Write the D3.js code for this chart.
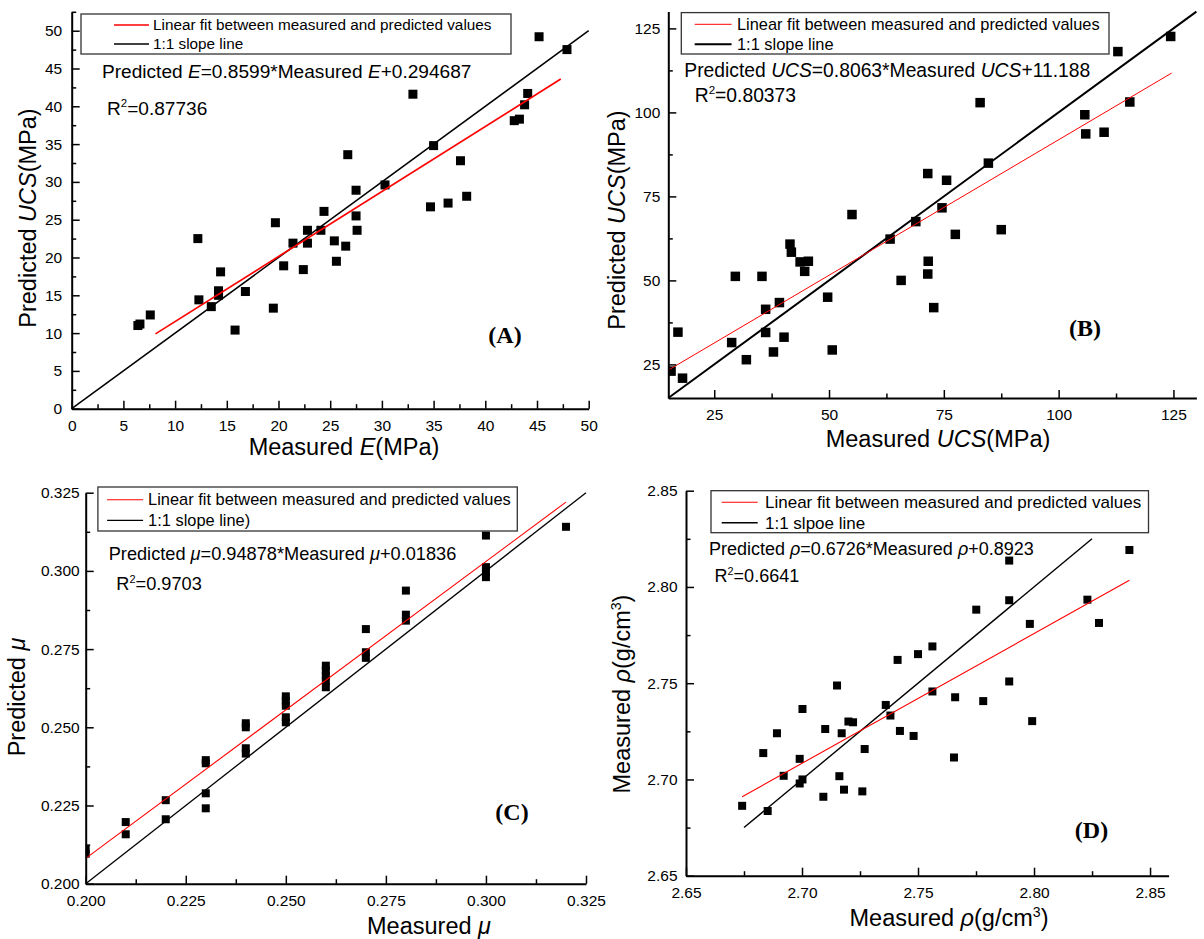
<!DOCTYPE html>
<html><head><meta charset="utf-8">
<script src="https://cdn.jsdelivr.net/npm/d3@7"></script>
<style>html,body{margin:0;padding:0;background:#fff;}svg{display:block;}</style>
</head><body>
<script>
// ---------- DATA ----------
// Panel A: E
const aMeasured  = [6.4,6.6,7.6,12.2,12.3,13.5,14.2,14.2,14.4,15.8,16.8,19.5,19.7,20.5,21.4,22.4,22.8,22.8,24.1,24.4,25.4,25.6,26.5,26.7,27.5,27.5,27.6,30.3,33.0,34.7,35.0,36.4,37.6,38.2,42.8,43.3,43.8,44.1,45.2,47.9];
const aPredicted = [11.0,11.2,12.4,22.5,14.4,13.5,15.6,15.0,18.1,10.4,15.5,13.3,24.6,18.9,21.9,18.4,23.6,21.9,23.6,26.1,22.2,19.5,21.5,33.6,28.9,25.5,23.6,29.6,41.6,26.7,34.8,27.2,32.8,28.1,38.1,38.3,40.2,41.7,49.2,47.5];
const aFitX = [8.1, 47.3], aFitY = [9.9, 43.6];
const aOneX = [0, 50],   aOneY = [0, 50];
const aTicks = [0,5,10,15,20,25,30,35,40,45,50];
const aMinorX = [2.5,7.5,12.5,17.5,22.5,27.5,32.5,37.5,42.5,47.5];
const aMinorY = [2.5,7.5,12.5,17.5,22.5,27.5,32.5,37.5,42.5,47.5,52.5];

// Panel B: UCS
const bMeasured  = [15.6,17.1,18.1,28.8,29.6,32.0,35.4,36.2,36.2,37.9,39.2,40.2,41.5,41.8,43.7,44.7,45.5,49.7,50.7,55.0,63.3,65.7,68.9,71.5,71.6,71.5,72.8,74.6,75.6,77.5,82.9,84.7,87.5,105.7,105.9,109.9,112.9,115.5,124.4];
const bPredicted = [23.0,34.6,20.9,31.5,51.2,26.4,51.2,41.4,34.5,28.7,43.4,33.1,60.8,58.4,55.5,52.7,55.7,45.0,29.3,69.6,62.3,50.0,67.5,81.8,55.7,51.9,41.9,71.6,79.8,63.7,102.9,84.9,65.1,99.3,93.6,94.1,118.1,103.1,122.6];
const bFitX = [15, 124.6], bFitY = [23.3, 111.7];
const bOneX = [15, 130],   bOneY = [15, 130];
const bTicks = [25,50,75,100,125];
const bMinor = [37.5,62.5,87.5,112.5];

// Panel C: Poisson's ratio
const cMeasured  = [0.20,0.20,0.21,0.21,0.22,0.22,0.23,0.23,0.23,0.23,0.24,0.24,0.24,0.24,0.25,0.25,0.25,0.25,0.25,0.26,0.26,0.26,0.26,0.26,0.27,0.27,0.27,0.28,0.28,0.28,0.30,0.30,0.30,0.30,0.32];
const cPredicted = [0.2110,0.2096,0.2197,0.2158,0.2267,0.2206,0.2395,0.2385,0.2289,0.2241,0.2513,0.2500,0.2433,0.2416,0.2599,0.2585,0.2569,0.2532,0.2516,0.2697,0.2681,0.2665,0.2649,0.2628,0.2814,0.2740,0.2722,0.2937,0.2860,0.2841,0.3113,0.3012,0.2996,0.2980,0.3141];
const cFitX = [0.200, 0.320], cFitY = [0.2081, 0.3220];
const cOneX = [0.200, 0.325], cOneY = [0.200, 0.325];
const cTicks = [0.200,0.225,0.250,0.275,0.300,0.325];
const cMinor = [0.2125,0.2375,0.2625,0.2875,0.3125];

// Panel D: density
const dMeasured  = [2.6742,2.6833,2.6852,2.6892,2.6921,2.6990,2.6990,2.7002,2.7002,2.7092,2.7100,2.7151,2.7161,2.7171,2.7181,2.7200,2.7220,2.7260,2.7270,2.7361,2.7381,2.7412,2.7422,2.7481,2.7500,2.7562,2.7562,2.7655,2.7660,2.7751,2.7781,2.7893,2.7893,2.7893,2.7982,2.7992,2.8230,2.8280,2.8411];
const dPredicted = [2.6863,2.7137,2.6836,2.7240,2.7019,2.7107,2.6979,2.7366,2.7000,2.6910,2.7262,2.7488,2.7017,2.7240,2.6947,2.7301,2.7297,2.6938,2.7158,2.7387,2.7332,2.7621,2.7252,2.7226,2.7651,2.7691,2.7457,2.7114,2.7427,2.7882,2.7407,2.8137,2.7931,2.7509,2.7808,2.7303,2.7934,2.7813,2.8192];
const dFitX = [2.6742, 2.8411], dFitY = [2.6910, 2.8035];
const dOneX = [2.675, 2.825],   dOneY = [2.675, 2.825];
const dTicks = [2.65,2.70,2.75,2.80,2.85];
const dMinor = [2.675,2.725,2.775,2.825];

const legendFit = "Linear fit between measured and predicted values";

// ---------- DRAWING ----------
const W = 1204, H = 939;
const FONT = "Arial, 'Liberation Sans', Helvetica, sans-serif";
const svg = d3.select("body").append("svg").attr("width", W).attr("height", H)
  .style("font-family", FONT);
svg.append("rect").attr("width", W).attr("height", H).attr("fill", "#fff");

function richText(sel, segs, size) {
  segs.forEach(s => {
    const t = sel.append("tspan").text(s.t);
    if (s.i) t.attr("font-style", "italic");
    if (s.sup) t.attr("font-size", size * 0.6).attr("dy", -size * 0.4);
    if (s.after) t.attr("dy", size * 0.4);
  });
}

function panel(cfg, idx) {
  const x = d3.scaleLinear().domain(cfg.xDomain).range(cfg.xRange);
  const y = d3.scaleLinear().domain(cfg.yDomain).range(cfg.yRange);
  const g = svg.append("g");
  const cid = "clip" + idx;
  svg.append("clipPath").attr("id", cid).append("rect")
    .attr("x", cfg.xRange[0]).attr("y", cfg.yRange[1])
    .attr("width", cfg.xRange[1] - cfg.xRange[0]).attr("height", cfg.yRange[0] - cfg.yRange[1]);

  const line = d3.line().x(d => x(d[0])).y(d => y(d[1]));
  // points
  g.append("g").attr("clip-path", `url(#${cid})`).selectAll("rect")
    .data(d3.zip(cfg.mx, cfg.py)).join("rect")
    .attr("x", d => x(d[0]) - cfg.ms / 2).attr("y", d => y(d[1]) - cfg.ms / 2)
    .attr("width", cfg.ms).attr("height", cfg.ms).attr("fill", "#000");
  // 1:1 line
  g.append("path").attr("d", line(d3.zip(cfg.oneX, cfg.oneY)))
    .attr("stroke", "#000").attr("stroke-width", cfg.oneW).attr("fill", "none");
  // fit line
  g.append("path").attr("d", line(d3.zip(cfg.fitX, cfg.fitY)))
    .attr("stroke", "#ff0000").attr("stroke-width", cfg.fitW).attr("fill", "none");

  // axes
  const x0 = cfg.xRange[0], y0 = cfg.yRange[0];
  const ti = cfg.inward ? -1 : 1;
  const xMaj = g.append("g").attr("transform", `translate(0,${y0})`)
    .call(d3.axisBottom(x).tickValues(cfg.xTicks).tickFormat(cfg.fmt)
      .tickSizeInner(8 * ti).tickSizeOuter(0).tickPadding(cfg.inward ? 11 : 3));
  const xMin = g.append("g").attr("transform", `translate(0,${y0})`)
    .call(d3.axisBottom(x).tickValues(cfg.xMinor).tickFormat("")
      .tickSizeInner(4.5 * ti).tickSizeOuter(0));
  const yMaj = g.append("g").attr("transform", `translate(${x0},0)`)
    .call(d3.axisLeft(y).tickValues(cfg.yTicks).tickFormat(cfg.fmt)
      .tickSizeInner(8 * ti).tickSizeOuter(0).tickPadding(cfg.inward ? cfg.yPad : cfg.yPad - 8));
  const yMin = g.append("g").attr("transform", `translate(${x0},0)`)
    .call(d3.axisLeft(y).tickValues(cfg.yMinor).tickFormat("")
      .tickSizeInner(4.5 * ti).tickSizeOuter(0));
  [xMin, yMin].forEach(a => a.select(".domain").remove());
  [xMaj, yMaj].forEach(a => a.select(".domain").attr("stroke-width", 2).attr("stroke", "#000"));
  [xMaj, xMin, yMaj, yMin].forEach(a => {
    a.selectAll(".tick line").attr("stroke", "#000").attr("stroke-width", 1.5);
    a.selectAll("text").attr("font-size", cfg.tickFont).attr("fill", "#000").attr("font-family", FONT);
  });

  // legend
  const L = cfg.legend;
  g.append("rect").attr("x", L.x).attr("y", L.y).attr("width", L.w).attr("height", L.h)
    .attr("fill", "#fff").attr("stroke", "#333").attr("stroke-width", 1.3);
  [[L.y1, "#ff0000", legendFit, cfg.fitW], [L.y2, "#000", cfg.legend2, cfg.oneW]].forEach(([ly, col, txt, sw]) => {
    g.append("line").attr("x1", L.lx1).attr("x2", L.lx2).attr("y1", ly).attr("y2", ly)
      .attr("stroke", col).attr("stroke-width", sw);
    g.append("text").attr("x", L.tx).attr("y", ly).attr("dy", "0.35em")
      .attr("font-size", L.fs).attr("fill", "#000").text(txt);
  });

  // equation
  const eq = g.append("text").attr("x", cfg.eq.x).attr("y", cfg.eq.y).attr("font-size", cfg.eq.fs).attr("fill", "#000");
  richText(eq, cfg.eq.segs, cfg.eq.fs);
  const r2 = g.append("text").attr("x", cfg.r2.x).attr("y", cfg.r2.y).attr("font-size", cfg.eq.fs).attr("fill", "#000");
  richText(r2, [{t: "R"}, {t: "2", sup: true}, {t: cfg.r2.t, after: true}], cfg.eq.fs);

  // panel label
  g.append("text").attr("x", cfg.lab.x).attr("y", cfg.lab.y).attr("text-anchor", "middle")
    .attr("font-family", "'Times New Roman', 'Liberation Serif', serif").attr("font-weight", "bold")
    .attr("font-size", 24).attr("fill", "#000").text(cfg.lab.t);

  // axis titles
  const xt = g.append("text").attr("x", cfg.xt.x).attr("y", cfg.xt.y).attr("text-anchor", "middle")
    .attr("font-size", cfg.titleFont).attr("fill", "#000");
  richText(xt, cfg.xt.segs, cfg.titleFont);
  const yt = g.append("text").attr("transform", `translate(${cfg.yt.x},${cfg.yt.y}) rotate(-90)`)
    .attr("text-anchor", "middle").attr("font-size", cfg.titleFont).attr("fill", "#000");
  richText(yt, cfg.yt.segs, cfg.titleFont);
}

const intFmt = d3.format("d");
panel({
  xDomain: [0, 50], xRange: [71.7, 588.7], yDomain: [0, 52.5], yRange: [408.7, 11.8],
  mx: aMeasured, py: aPredicted, fitX: aFitX, fitY: aFitY, oneX: aOneX, oneY: aOneY,
  xTicks: aTicks, yTicks: aTicks, xMinor: aMinorX, yMinor: aMinorY, fmt: intFmt,
  ms: 9, oneW: 1.5, fitW: 1.7, inward: true, yPad: 9.5, tickFont: 15.5, titleFont: 23.5,
  legend: {x: 81, y: 14, w: 430, h: 40, y1: 25, y2: 44, lx1: 114, lx2: 149, tx: 153, fs: 15.3},
  legend2: "1:1 slope line",
  eq: {x: 102, y: 78, fs: 19.1, segs: [{t: "Predicted "}, {t: "E", i: true}, {t: "=0.8599*Measured "}, {t: "E", i: true}, {t: "+0.294687"}]},
  r2: {x: 107, y: 115, t: "=0.87736"},
  lab: {x: 505, y: 343, t: "(A)"},
  xt: {x: 344, y: 455, segs: [{t: "Measured "}, {t: "E", i: true}, {t: "(MPa)"}]},
  yt: {x: 36, y: 218, segs: [{t: "Predicted "}, {t: "UCS", i: true}, {t: "(MPa)"}]}
}, 0);

panel({
  xDomain: [15, 130], xRange: [668.3, 1196.4], yDomain: [15, 130], yRange: [398, 11.6],
  mx: bMeasured, py: bPredicted, fitX: bFitX, fitY: bFitY, oneX: bOneX, oneY: bOneY,
  xTicks: bTicks, yTicks: bTicks, xMinor: bMinor, yMinor: bMinor, fmt: intFmt,
  ms: 9.5, oneW: 2, fitW: 1, inward: true, yPad: 8, tickFont: 15.5, titleFont: 23.5,
  legend: {x: 681.3, y: 12.6, w: 427.7, h: 41.4, y1: 24.3, y2: 44.3, lx1: 694.7, lx2: 731.6, tx: 737, fs: 16.4},
  legend2: "1:1 slope line",
  eq: {x: 684.3, y: 77, fs: 19.3, segs: [{t: "Predicted "}, {t: "UCS", i: true}, {t: "=0.8063*Measured "}, {t: "UCS", i: true}, {t: "+11.188"}]},
  r2: {x: 694.7, y: 102, t: "=0.80373"},
  lab: {x: 1085, y: 336, t: "(B)"},
  xt: {x: 938, y: 447, segs: [{t: "Measured "}, {t: "UCS", i: true}, {t: "(MPa)"}]},
  yt: {x: 625, y: 220, segs: [{t: "Predicted "}, {t: "UCS", i: true}, {t: "(MPa)"}]}
}, 1);

panel({
  xDomain: [0.2, 0.325], xRange: [85.7, 586], yDomain: [0.2, 0.325], yRange: [883.7, 492.7],
  mx: cMeasured, py: cPredicted, fitX: cFitX, fitY: cFitY, oneX: cOneX, oneY: cOneY,
  xTicks: cTicks, yTicks: cTicks, xMinor: cMinor, yMinor: cMinor, fmt: d3.format(".3f"),
  ms: 8, oneW: 1.3, fitW: 1.1, inward: true, yPad: 6, tickFont: 15.5, titleFont: 23.5,
  legend: {x: 97.9, y: 487, w: 419.4, h: 44, y1: 499.7, y2: 520.4, lx1: 107.1, lx2: 143.1, tx: 148.1, fs: 16.4},
  legend2: "1:1 slope line)",
  eq: {x: 108.7, y: 560, fs: 18.2, segs: [{t: "Predicted "}, {t: "μ", i: true}, {t: "=0.94878*Measured "}, {t: "μ", i: true}, {t: "+0.01836"}]},
  r2: {x: 116.3, y: 590, t: "=0.9703"},
  lab: {x: 512, y: 820, t: "(C)"},
  xt: {x: 429, y: 934, segs: [{t: "Measured "}, {t: "μ", i: true}]},
  yt: {x: 25, y: 697, segs: [{t: "Predicted "}, {t: "μ", i: true}]}
}, 2);

panel({
  xDomain: [2.65, 2.858], xRange: [686, 1168.6], yDomain: [2.65, 2.85], yRange: [875.7, 490.7],
  mx: dMeasured, py: dPredicted, fitX: dFitX, fitY: dFitY, oneX: dOneX, oneY: dOneY,
  xTicks: dTicks, yTicks: dTicks, xMinor: dMinor, yMinor: dMinor, fmt: d3.format(".2f"),
  ms: 8, oneW: 1.4, fitW: 1.1, inward: true, yPad: 8.5, tickFont: 15.5, titleFont: 23.5,
  legend: {x: 711, y: 490.7, w: 437.5, h: 42, y1: 502.3, y2: 522.7, lx1: 721.7, lx2: 757.7, tx: 765, fs: 17},
  legend2: "1:1 slpoe line",
  eq: {x: 708.9, y: 555, fs: 18, segs: [{t: "Predicted "}, {t: "ρ", i: true}, {t: "=0.6726*Measured "}, {t: "ρ", i: true}, {t: "+0.8923"}]},
  r2: {x: 714.6, y: 582, t: "=0.6641"},
  lab: {x: 1091.5, y: 838, t: "(D)"},
  xt: {x: 949, y: 926, segs: [{t: "Measured "}, {t: "ρ", i: true}, {t: "(g/cm"}, {t: "3", sup: true}, {t: ")", after: true}]},
  yt: {x: 630, y: 694, segs: [{t: "Measured "}, {t: "ρ", i: true}, {t: "(g/cm"}, {t: "3", sup: true}, {t: ")", after: true}]}
}, 3);
</script>
</body></html>
